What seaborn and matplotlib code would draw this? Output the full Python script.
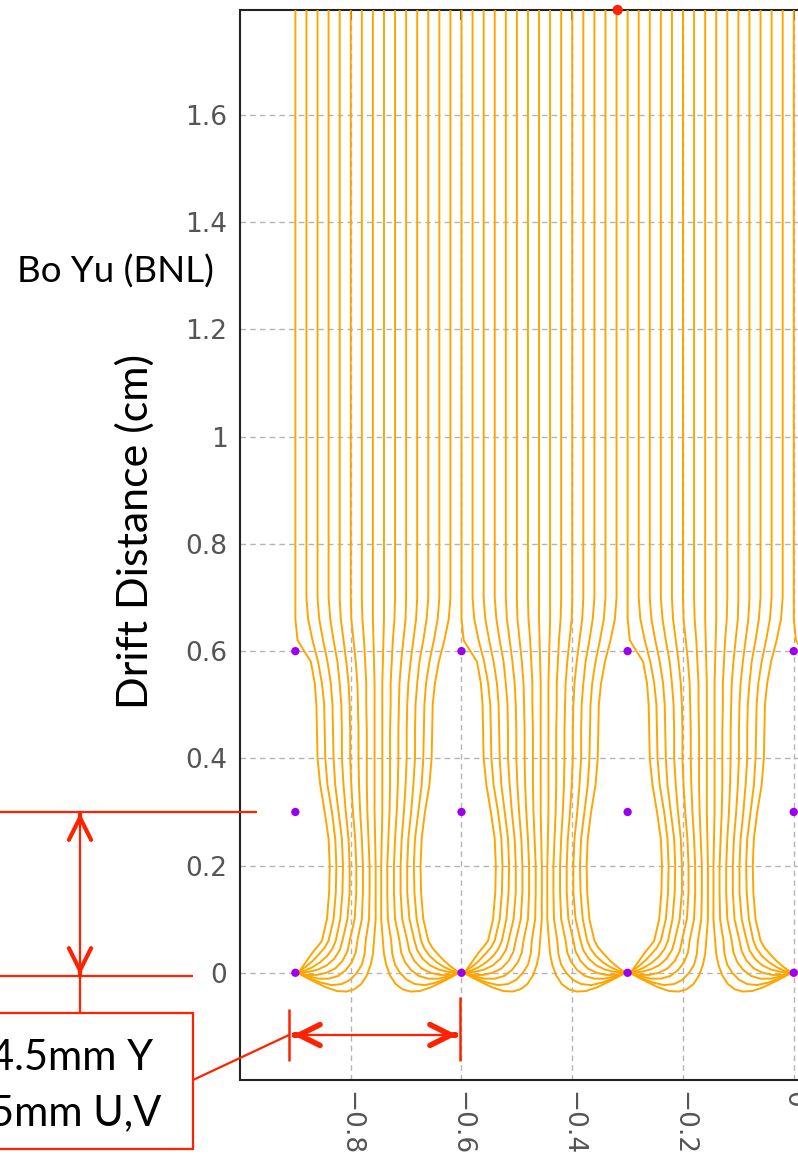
import numpy as np
import pandas as pd
import matplotlib
matplotlib.use("Agg")
import matplotlib.pyplot as plt
import seaborn as sns
from matplotlib.lines import Line2D
from matplotlib.patches import Rectangle, FancyArrowPatch

# ---------------- data ----------------
# collection-wire x positions (left wire of each drift cell) and wire-plane heights
cell_left_wire = [-0.9, -0.6, -0.3, 0.0]
cell_pitch = 0.3
wire_x = [-0.9, -0.6, -0.3, 0.0]
plane_y = [0.0, 0.3, 0.6]
track_point_x = [-0.318]
track_point_y = [1.796]

# heights at which the upper part of each drift line is sampled
y_levels = [1.8, 0.70, 0.66, 0.62, 0.58, 0.54, 0.50, 0.45, 0.40, 0.35,
            0.30, 0.25, 0.20, 0.15, 0.10, 0.06]

# offset (cm) from the collecting wire of the 8 half-cell drift lines at y_levels
u_line0 = [0.00, 0.00, 0.000, 0.004, 0.028, 0.035, 0.038, 0.039, 0.040, 0.045, 0.053, 0.060, 0.062, 0.061, 0.057, 0.048]
u_line1 = [0.02, 0.02, 0.023, 0.031, 0.041, 0.048, 0.052, 0.053, 0.054, 0.058, 0.066, 0.072, 0.074, 0.073, 0.069, 0.060]
u_line2 = [0.04, 0.04, 0.043, 0.050, 0.058, 0.064, 0.067, 0.068, 0.069, 0.072, 0.078, 0.084, 0.086, 0.085, 0.081, 0.073]
u_line3 = [0.06, 0.06, 0.063, 0.069, 0.076, 0.080, 0.083, 0.084, 0.084, 0.087, 0.091, 0.096, 0.098, 0.098, 0.094, 0.085]
u_line4 = [0.08, 0.08, 0.082, 0.087, 0.092, 0.096, 0.098, 0.099, 0.099, 0.101, 0.104, 0.108, 0.110, 0.110, 0.107, 0.098]
u_line5 = [0.10, 0.10, 0.101, 0.105, 0.109, 0.112, 0.113, 0.114, 0.114, 0.115, 0.117, 0.120, 0.122, 0.122, 0.120, 0.112]
u_line6 = [0.12, 0.12, 0.121, 0.124, 0.126, 0.128, 0.128, 0.129, 0.129, 0.129, 0.130, 0.132, 0.134, 0.134, 0.133, 0.127]
u_line7 = [0.14, 0.14, 0.140, 0.141, 0.142, 0.143, 0.143, 0.143, 0.143, 0.143, 0.143, 0.144, 0.145, 0.145, 0.145, 0.142]

# the hook of each line into the collection wire (offset, height)
hook_u0 = [0.041, 0.032, 0.023, 0.015, 0.008]
hook_y0 = [0.050, 0.039, 0.026, 0.014, 0.004]
hook_u1 = [0.053, 0.043, 0.032, 0.021, 0.012, 0.007]
hook_y1 = [0.047, 0.035, 0.023, 0.013, 0.006, 0.002]
hook_u2 = [0.067, 0.057, 0.044, 0.030, 0.017, 0.008]
hook_y2 = [0.045, 0.031, 0.019, 0.010, 0.004, 0.001]
hook_u3 = [0.080, 0.070, 0.057, 0.041, 0.025, 0.008]
hook_y3 = [0.042, 0.026, 0.014, 0.006, 0.002, 0.000]
hook_u4 = [0.094, 0.085, 0.072, 0.056, 0.039, 0.022, 0.008]
hook_y4 = [0.040, 0.022, 0.008, 0.000, -0.004, -0.004, -0.001]
hook_u5 = [0.109, 0.102, 0.091, 0.077, 0.060, 0.042, 0.025, 0.008]
hook_y5 = [0.038, 0.020, 0.005, -0.006, -0.011, -0.011, -0.007, -0.001]
hook_u6 = [0.125, 0.120, 0.111, 0.099, 0.084, 0.066, 0.045, 0.025, 0.008]
hook_y6 = [0.035, 0.015, 0.000, -0.013, -0.021, -0.023, -0.018, -0.010, -0.002]
hook_u7 = [0.140, 0.136, 0.129, 0.119, 0.106, 0.092, 0.075, 0.055, 0.035, 0.018, 0.008]
hook_y7 = [0.035, 0.015, -0.005, -0.021, -0.031, -0.035, -0.034, -0.027, -0.017, -0.008, -0.002]

x_ticks = [-0.8, -0.6, -0.4, -0.2, 0.0]
x_tick_labels = ["\u22120.8", "\u22120.6", "\u22120.4", "\u22120.2", "0"]
y_ticks = [0.0, 0.2, 0.4, 0.6, 0.8, 1.0, 1.2, 1.4, 1.6]
y_tick_labels = ["0", "0.2", "0.4", "0.6", "0.8", "1", "1.2", "1.4", "1.6"]

upper = [u_line0, u_line1, u_line2, u_line3, u_line4, u_line5, u_line6, u_line7]
hooks_u = [hook_u0, hook_u1, hook_u2, hook_u3, hook_u4, hook_u5, hook_u6, hook_u7]
hooks_y = [hook_y0, hook_y1, hook_y2, hook_y3, hook_y4, hook_y5, hook_y6, hook_y7]

# build long table of drift lines (left half of a cell and its mirror image)
rows = []
lid = 0
for c in cell_left_wire:
    for k in range(8):
        us = upper[k] + hooks_u[k]
        ys = y_levels + hooks_y[k]
        for i, (u, y) in enumerate(zip(us, ys)):
            rows.append((lid, i, c + u, y))
        lid += 1
        if k >= 1:
            for i, (u, y) in enumerate(zip(us, ys)):
                rows.append((lid, i, c + cell_pitch - u, y))
            lid += 1
df = pd.DataFrame(rows, columns=["line", "order", "x", "y"])

wires = pd.DataFrame([(x, y) for x in wire_x for y in plane_y], columns=["x", "y"])

# ---------------- figure ----------------
sns.set_theme(style="white")
plt.rcParams["font.family"] = ["DejaVu Sans"]

W, H = 798, 1164
fig = plt.figure(figsize=(W / 100, H / 100), dpi=100)

px_per_x = 553.75
x_lo, x_hi = -1.0, 0.1
ax_left, ax_top, ax_bottom = 240, 10, 1080
ax = fig.add_axes([ax_left / W, 1 - ax_bottom / H,
                   (x_hi - x_lo) * px_per_x / W, (ax_bottom - ax_top) / H])

sns.lineplot(data=df, x="x", y="y", units="line", estimator=None, sort=False,
             color="#ffa500", lw=1.4, ax=ax, legend=False, zorder=3)
for ln in ax.get_lines():
    ln.set_solid_joinstyle("round")
sns.scatterplot(data=wires, x="x", y="y", color="#9d00f0", s=36,
                edgecolor="none", ax=ax, zorder=5, legend=False)
sns.scatterplot(x=track_point_x, y=track_point_y, color="#ff2200", s=55,
                edgecolor="none", ax=ax, zorder=6, clip_on=False, legend=False)

ax.set_xlim(x_lo, x_hi)
ax.set_ylim(-0.2, 1.796)
ax.set_xticks(x_ticks)
ax.set_xticklabels(x_tick_labels, rotation=-90, color="#555555", fontsize=19)
ax.set_yticks(y_ticks)
ax.set_yticklabels(y_tick_labels, color="#555555", fontsize=19)
ax.tick_params(axis="both", direction="in", length=7.5, width=1.4, color="#222222",
               top=True, right=True, pad=9)
ax.tick_params(axis="x", pad=8)
ax.set_xlabel("")
ax.set_ylabel("")
for s in ax.spines.values():
    s.set_color("#222222")
    s.set_linewidth(1.5)
ax.grid(True, color="#b4b4b4", linestyle=(0, (4, 3)), linewidth=1.0, zorder=0)
ax.set_axisbelow(True)

# ---------------- texts ----------------
fig.text(135 / W, 1 - 532 / H, "Drift Distance (cm)", rotation=90, ha="center",
         va="center", fontsize=31, family=["Lato", "DejaVu Sans"], color="black")
fig.text(115 / W, 1 - 272 / H, "Bo Yu (BNL)", ha="center", va="center",
         fontsize=26.5, family=["Lato", "DejaVu Sans"], color="black")

# ---------------- red dimension annotations (figure pixels) ----------------
red = "#ff2200"


def fp(px, py):
    return (px / W, 1 - py / H)


def seg(p0, p1, lw=1.6):
    (x0, y0), (x1, y1) = fp(*p0), fp(*p1)
    fig.add_artist(Line2D([x0, x1], [y0, y1], color=red, lw=lw,
                          transform=fig.transFigure, solid_capstyle="butt"))


def head(tip, frm, lw, hl, hw):
    a = FancyArrowPatch(fp(*frm), fp(*tip), transform=fig.transFigure,
                        arrowstyle=f"->,head_length={hl},head_width={hw}",
                        color=red, lw=lw, shrinkA=0, shrinkB=0,
                        mutation_scale=1, capstyle="round", joinstyle="round")
    fig.add_artist(a)


# horizontal reference lines at wire planes
seg((0, 812), (257, 812))
seg((0, 976), (193, 976))
# vertical double arrow
seg((80, 813), (80, 1013))
head((80, 813), (80, 815), 3.0, 16, 8)
head((80, 975), (80, 973), 3.0, 16, 8)
# horizontal double arrow
seg((292, 1035), (458, 1035))
head((293, 1035), (295, 1035), 4.0, 15, 7.5)
head((457, 1035), (455, 1035), 4.0, 15, 7.5)
seg((289, 1009), (289, 1061), lw=1.8)
seg((460, 997), (460, 1061), lw=1.8)
# leader line
seg((193, 1080), (289, 1035))

# label box
bx0, by0 = fp(-20, 1149)
bx1, by1 = fp(193, 1013)
fig.add_artist(Rectangle((bx0, by0), bx1 - bx0, by1 - by0, transform=fig.transFigure,
                         facecolor="white", edgecolor=red, lw=1.6, zorder=10))
fig.text(*fp(-10, 1070), "4.5mm Y", ha="left", va="baseline", fontsize=30,
         family=["Lato", "DejaVu Sans"], color="black", zorder=11)
fig.text(*fp(-10, 1125), "5mm U,V", ha="left", va="baseline", fontsize=30,
         family=["Lato", "DejaVu Sans"], color="black", zorder=11)

fig.savefig("out.png", dpi=100)
